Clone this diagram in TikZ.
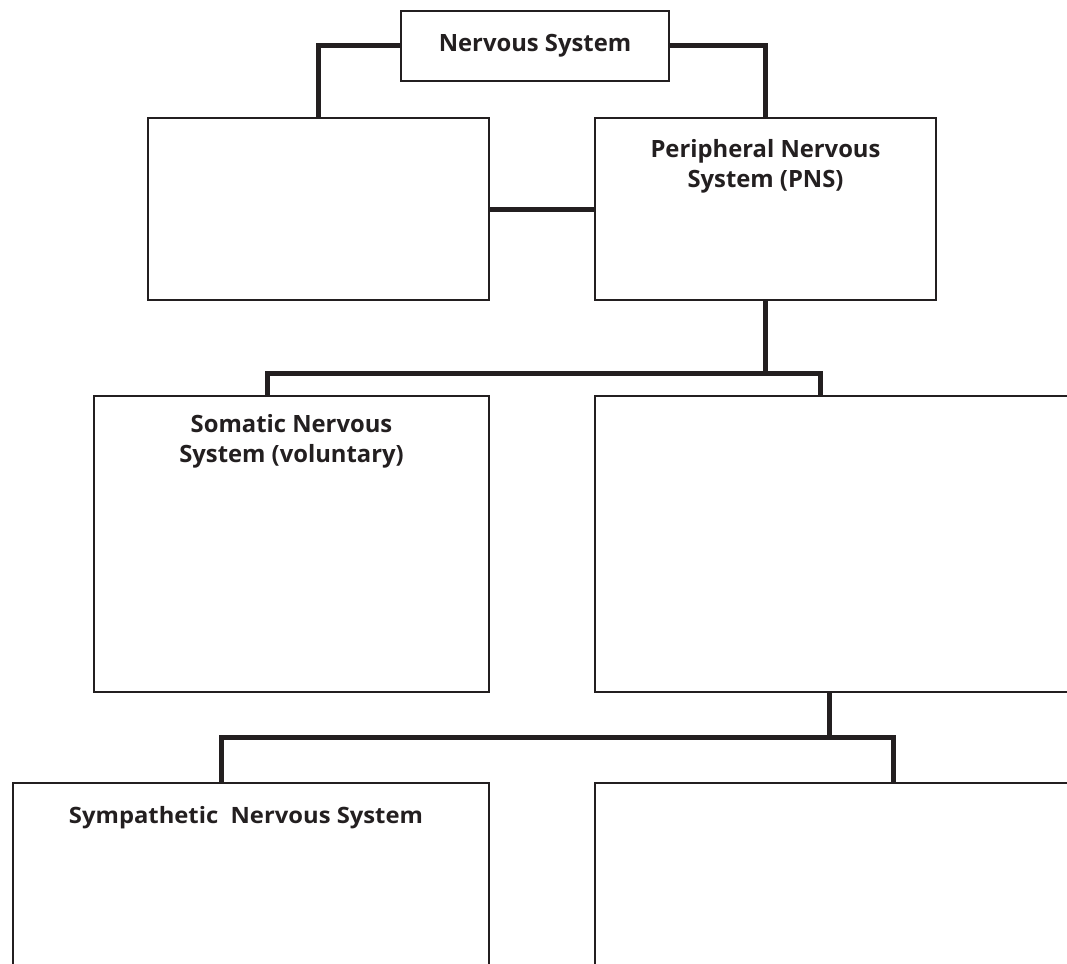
\documentclass[tikz,border=0pt]{standalone}
\usepackage{fontspec}
\setmainfont{Open Sans}
\usepackage{graphicx}
\usetikzlibrary{positioning}
\definecolor{ink}{HTML}{231F20}

\begin{document}
\begin{tikzpicture}[x=1pt, y=-1pt,
  box/.style={draw=ink, line width=2pt, anchor=north west, inner sep=0pt},
  title/.style={font=\bfseries\fontsize{23.8}{30}\selectfont, text=ink,
                align=center, inner sep=0pt},
  link/.style={draw=ink, line width=5pt}
]
  \clip (0,0) rectangle (1067,963);

  % top level
  \node[box, minimum width=268, minimum height=70, title] (ns) at (400,10)
    {Nervous System};

  % second row
  \node[box, minimum width=341, minimum height=182] (cns) at (147,117) {};
  \node[box, minimum width=341, minimum height=182] (pns) at (594,117) {};
  \node[title, anchor=north, below=22pt of pns.north] (pnsT)
    {Peripheral Nervous\\System (PNS)};

  % third row
  \node[box, minimum width=395, minimum height=296] (som) at (93,395) {};
  \node[box, minimum width=520, minimum height=296] (aut) at (594,395) {};
  \node[title, anchor=north, below=19pt of som.north] (somT)
    {Somatic Nervous\\System (voluntary)};

  % bottom row
  \node[box, minimum width=476, minimum height=300] (sym) at (12,782) {};
  \node[box, minimum width=520, minimum height=300] (para) at (594,782) {};
  \node[title, anchor=north, font=\bfseries\fontsize{22.5}{28}\selectfont,
        below=24pt of sym.north, xshift=-5pt] (symT)
    {\resizebox{354pt}{\height}{Sympathetic\ \ Nervous System}};

  % junction points
  \coordinate (j1) at (pns.south |- 0,373);
  \coordinate (somTop) at (267,395);
  \coordinate (autTop) at (820,395);
  \coordinate (autBot) at (829,691);
  \coordinate (j2) at (829,737);
  \coordinate (symTop) at (221,782);
  \coordinate (paraTop) at (893,782);

  % connectors
  \draw[link] (ns.west) -| (cns.north);
  \draw[link] (ns.east) -| (pns.north);
  \draw[link] (cns.east) -- (pns.west);
  \draw[link] (pns.south) -- (j1);
  \draw[link] (somTop) |- (j1) -| (autTop);
  \draw[link] (autBot) -- (j2);
  \draw[link] (symTop) |- (j2) -| (paraTop);
\end{tikzpicture}
\end{document}
